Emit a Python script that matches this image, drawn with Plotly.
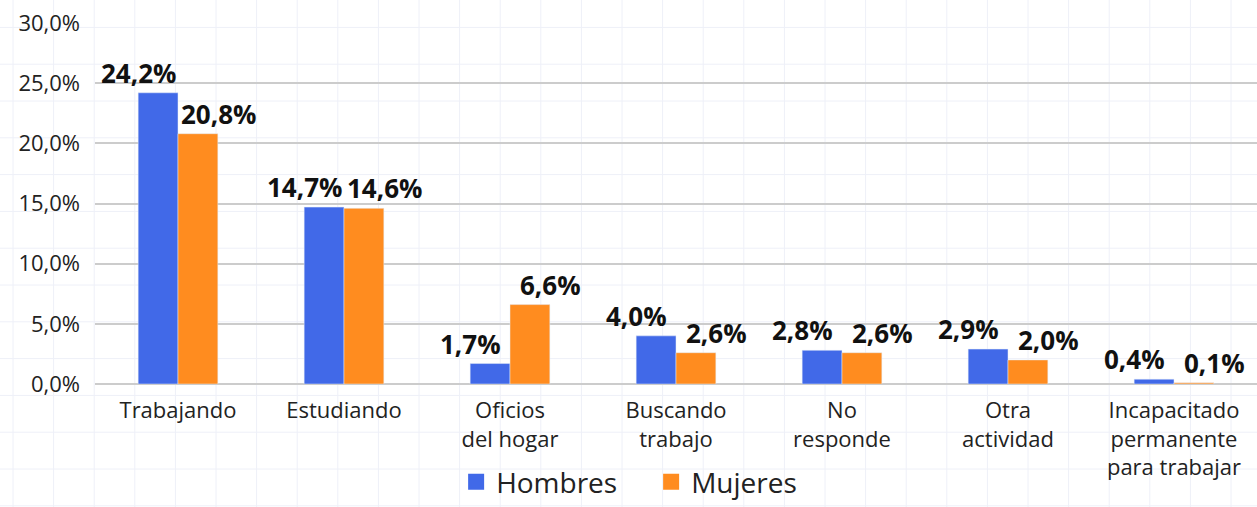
import plotly.graph_objects as go

categorias = ["Trabajando", "Estudiando", "Oficios<br>del hogar", "Buscando<br>trabajo",
              "No<br>responde", "Otra<br>actividad", "Incapacitado<br>permanente<br>para trabajar"]
hombres = [24.2, 14.7, 1.7, 4.0, 2.8, 2.9, 0.4]
mujeres = [20.8, 14.6, 6.6, 2.6, 2.6, 2.0, 0.1]
y_ticks = [0, 5, 10, 15, 20, 25, 30]
y_tick_labels = ["0,0%", "5,0%", "10,0%", "15,0%", "20,0%", "25,0%", "30,0%"]

AZUL = "#4169E8"
NARANJA = "#FF8C1F"
FUENTE = "Open Sans"
W, H = 1257, 507


def fmt(v):
    return f"{v:.1f}".replace(".", ",") + "%"


fig = go.Figure()
fig.add_trace(go.Bar(x=categorias, y=hombres, name="Hombres", marker_color=AZUL, showlegend=False))
fig.add_trace(go.Bar(x=categorias, y=mujeres, name="Mujeres", marker_color=NARANJA, showlegend=False))

# legend entries with bigger squares
for nombre, color in [("Hombres", AZUL), ("Mujeres", NARANJA)]:
    fig.add_trace(go.Scatter(x=[None], y=[None], mode="markers", name=nombre,
                             marker=dict(symbol="square", size=22, color=color)))

# value labels, pushed outward from each bar
for cat, h, m in zip(categorias, hombres, mujeres):
    fig.add_annotation(x=cat, y=h, text=fmt(h), showarrow=False, yanchor="bottom",
                       xshift=-40, yshift=0, font=dict(size=26, color="#111", family=FUENTE, weight="bold"))
    fig.add_annotation(x=cat, y=m, text=fmt(m), showarrow=False, yanchor="bottom",
                       xshift=40, yshift=0, font=dict(size=26, color="#111", family=FUENTE, weight="bold"))

# faint page grid behind the chart
shapes = []
x = 13.0
while x < W:
    shapes.append(dict(type="line", xref="paper", yref="paper", x0=x / W, x1=x / W, y0=0, y1=1,
                       line=dict(color="#EEF0F8", width=1), layer="below"))
    x += 40.6
y = 27.4
while y < H:
    shapes.append(dict(type="line", xref="paper", yref="paper", x0=0, x1=1, y0=1 - y / H, y1=1 - y / H,
                       line=dict(color="#EEF0F8", width=1), layer="below"))
    y += 36.8

fig.update_layout(
    width=W, height=H,
    margin=dict(l=0, r=0, t=0, b=0, autoexpand=False),
    paper_bgcolor="white", plot_bgcolor="rgba(0,0,0,0)",
    barmode="group", bargap=0.52, bargroupgap=0,
    font=dict(family=FUENTE, color="#222"),
    shapes=shapes,
    legend=dict(orientation="h", x=0.518, xanchor="center", y=0, yanchor="bottom",
                entrywidth=150, font=dict(size=28, color="#222"), bgcolor="rgba(0,0,0,0)"),
    xaxis=dict(domain=[95 / W, 1], showgrid=False, tickfont=dict(size=22, color="#222"),
               ticks="", ticklabelstandoff=11, automargin=False),
    yaxis=dict(domain=[1 - 384 / H, 1 - 23 / H], range=[0, 30], tickvals=y_ticks, ticktext=y_tick_labels,
               showgrid=True, gridcolor="#CCCCCC", gridwidth=1.5, zeroline=True, zerolinecolor="#CCCCCC",
               zerolinewidth=1.5, tickfont=dict(size=22, color="#222"), ticklabelstandoff=14,
               automargin=False),
)

fig.write_html("out.html", config={"displayModeBar": False},
               post_script="document.body.style.margin='0';")
